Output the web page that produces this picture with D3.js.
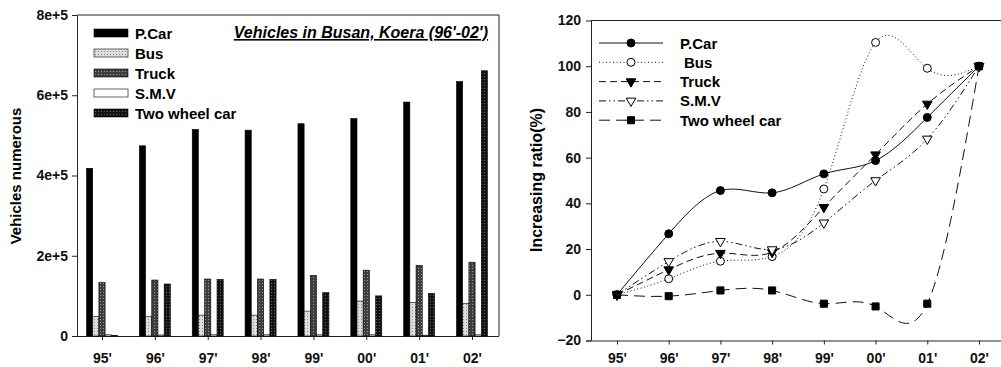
<!DOCTYPE html>
<html>
<head>
<meta charset="utf-8">
<script src="https://cdn.jsdelivr.net/npm/d3@7"></script>
<style>
  body { margin: 0; background: #fff; }
  svg { font-family: "Liberation Sans", Arial, sans-serif; }
  .tick text { font-weight: bold; font-size: 14px; fill: #111; }
</style>
</head>
<body>
<div id="chart-area"></div>
<script>
// data
const years = ["95'", "96'", "97'", "98'", "99'", "00'", "01'", "02'"];
const series = ["P.Car", "Bus", "Truck", "S.M.V", "Two wheel car"];

// vehicle counts (left chart)
const pCar = [418000, 474000, 515000, 513000, 529000, 542000, 583000, 634000];
const bus = [48000, 48000, 52000, 52000, 62000, 87000, 83000, 81000];
const truck = [133000, 139500, 142000, 142000, 151000, 164000, 176000, 184000];
const smv = [3000, 2500, 3000, 3000, 3000, 3000, 2000, 3000];
const twoWheel = [1000, 129600, 141000, 141000, 108000, 100000, 106000, 661000];

// increasing ratio % (right chart)
const pCarRatio = [0, 26.7, 45.6, 44.6, 52.9, 58.7, 77.6, 100];
const busRatio = [0, 7.0, 14.7, 16.7, 46.3, 110.4, 99.1, 100];
const truckRatio = [0, 11.0, 18.2, 18.6, 38.3, 61.3, 83.5, 100];
const smvRatio = [0, 14.6, 23.4, 19.8, 31.5, 50.0, 68.2, 100];
const twoWheelRatio = [0, -0.6, 1.9, 1.9, -3.9, -5.1, -3.9, 100];

const counts = [pCar, bus, truck, smv, twoWheel];
const ratios = [pCarRatio, busRatio, truckRatio, smvRatio, twoWheelRatio];

const svg = d3.select('#chart-area')
  .append('svg')
  .attr('width', 1001)
  .attr('height', 367);

// stipple patterns for bars
const defs = svg.append('defs');
function stipple(id, base, dot) {
  const p = defs.append('pattern')
    .attr('id', id)
    .attr('width', 3).attr('height', 3)
    .attr('patternUnits', 'userSpaceOnUse');
  p.append('rect').attr('width', 3).attr('height', 3).attr('fill', base);
  p.append('rect').attr('x', 1).attr('y', 1).attr('width', 1).attr('height', 1).attr('fill', dot);
}
stipple('pBus', '#dedede', '#888');
stipple('pTruck', '#3e3e3e', '#999');
stipple('pTwo', '#121212', '#666');
const barFill = ['#000', 'url(#pBus)', 'url(#pTruck)', '#fff', 'url(#pTwo)'];

// ---------- left chart ----------
const L = { left: 77, right: 499, top: 15, bottom: 336 };
const xL = d3.scalePoint().domain(years).range([102, 472]);
const xInner = d3.scaleBand().domain(series).range([-15.5, 15.5]);
const yL = d3.scaleLinear().domain([0, 800000]).range([L.bottom, L.top]);

const gl = svg.append('g');

// frame
gl.append('path')
  .attr('d', `M${L.left},${L.top}H${L.right}V${L.bottom}`)
  .attr('fill', 'none').attr('stroke', '#222').attr('stroke-width', 1);

gl.append('g')
  .attr('transform', `translate(${L.left},0)`)
  .call(d3.axisLeft(yL).tickValues([0, 200000, 400000, 600000, 800000])
    .tickFormat(d => d === 0 ? '0' : (d / 100000) + 'e+5')
    .tickSize(5).tickSizeOuter(0).tickPadding(4));

gl.append('g')
  .attr('transform', `translate(0,${L.bottom})`)
  .call(d3.axisBottom(xL).tickSize(4).tickSizeOuter(0).tickPadding(13))
  .call(g => g.select('.domain').attr('d', `M${L.left - 4},0.5H${L.right}`));

gl.selectAll('.domain, .tick line').attr('stroke', '#222');

series.forEach((s, si) => {
  gl.append('g').selectAll('rect')
    .data(counts[si])
    .join('rect')
    .attr('x', (d, i) => xL(years[i]) + xInner(s))
    .attr('width', xInner.bandwidth())
    .attr('y', d => yL(d))
    .attr('height', d => yL(0) - yL(d))
    .attr('fill', barFill[si])
    .attr('stroke', '#000')
    .attr('stroke-width', 0.6);
});

// left legend
series.forEach((s, i) => {
  const row = gl.append('g').attr('transform', `translate(94, ${33 + i * 20})`);
  row.append('rect')
    .attr('y', -4).attr('width', 34).attr('height', 8)
    .attr('fill', barFill[i]).attr('stroke', '#000').attr('stroke-width', 0.6);
  row.append('text')
    .attr('x', 41).attr('y', 5.5)
    .attr('font-size', '15px').attr('font-weight', 'bold')
    .text(s);
});

gl.append('text')
  .attr('x', 488).attr('y', 38)
  .attr('text-anchor', 'end')
  .attr('font-size', '16px').attr('font-weight', 'bold').attr('font-style', 'italic')
  .attr('text-decoration', 'underline')
  .text("Vehicles in Busan, Koera (96'-02')");

gl.append('text')
  .attr('transform', 'rotate(-90)')
  .attr('x', -176).attr('y', 21)
  .attr('text-anchor', 'middle')
  .attr('font-size', '15px').attr('font-weight', 'bold')
  .text('Vehicles numerous');

// ---------- right chart ----------
const R = { left: 591, right: 1001, top: 20.5, bottom: 340.5 };
const xR = d3.scalePoint().domain(years).range([617, 979]);
const yR = d3.scaleLinear().domain([-20, 120]).range([R.bottom, R.top]);

const gr = svg.append('g');

gr.append('path')
  .attr('d', `M${R.left},${R.top}H${R.right}`)
  .attr('fill', 'none').attr('stroke', '#222');

gr.append('g')
  .attr('transform', `translate(${R.left},0)`)
  .call(d3.axisLeft(yR).tickValues(d3.range(-20, 121, 20))
    .tickSize(5).tickSizeOuter(0).tickPadding(5));

gr.append('g')
  .attr('transform', `translate(0,${R.bottom})`)
  .call(d3.axisBottom(xR).tickSize(4).tickSizeOuter(0).tickPadding(9))
  .call(g => g.select('.domain').attr('d', `M${R.left - 5},0.5H${R.right}`));

gr.selectAll('.domain, .tick line').attr('stroke', '#222');

const dashes = [null, '1,2.5', '7,4', '7,3,1.5,3,1.5,3', '11,6'];
const markers = [
  { type: d3.symbolCircle, size: 50, fill: '#000' },
  { type: d3.symbolCircle, size: 50, fill: '#fff' },
  { type: d3.symbolTriangle, size: 40, fill: '#000', flip: true },
  { type: d3.symbolTriangle, size: 40, fill: '#fff', flip: true },
  { type: d3.symbolSquare, size: 50, fill: '#000' }
];

const line = d3.line()
  .x((d, i) => xR(years[i]))
  .y(d => yR(d))
  .curve(d3.curveNatural);

function drawMarker(g, m, x, y) {
  g.append('path')
    .attr('d', d3.symbol().type(m.type).size(m.size)())
    .attr('transform', `translate(${x},${y})` + (m.flip ? ' rotate(180)' : ''))
    .attr('fill', m.fill).attr('stroke', '#000').attr('stroke-width', 1);
}

series.forEach((s, si) => {
  gr.append('path')
    .datum(ratios[si])
    .attr('d', line)
    .attr('fill', 'none')
    .attr('stroke', '#111')
    .attr('stroke-width', 1)
    .attr('stroke-dasharray', dashes[si]);
});
series.forEach((s, si) => {
  ratios[si].forEach((d, i) => drawMarker(gr, markers[si], xR(years[i]), yR(d)));
});

// right legend
series.forEach((s, i) => {
  const y = 43 + i * 19.3;
  gr.append('line')
    .attr('x1', 599).attr('x2', 663).attr('y1', y).attr('y2', y)
    .attr('stroke', '#111').attr('stroke-dasharray', dashes[i]);
  drawMarker(gr, markers[i], 631, y);
  gr.append('text')
    .attr('x', i === 1 ? 684 : 680).attr('y', y + 5.5)
    .attr('font-size', '15px').attr('font-weight', 'bold')
    .text(s);
});

gr.append('text')
  .attr('transform', 'rotate(-90)')
  .attr('x', -180).attr('y', 542)
  .attr('text-anchor', 'middle')
  .attr('font-size', '16px').attr('font-weight', 'bold')
  .text('Increasing ratio(%)');
</script>
</body>
</html>
